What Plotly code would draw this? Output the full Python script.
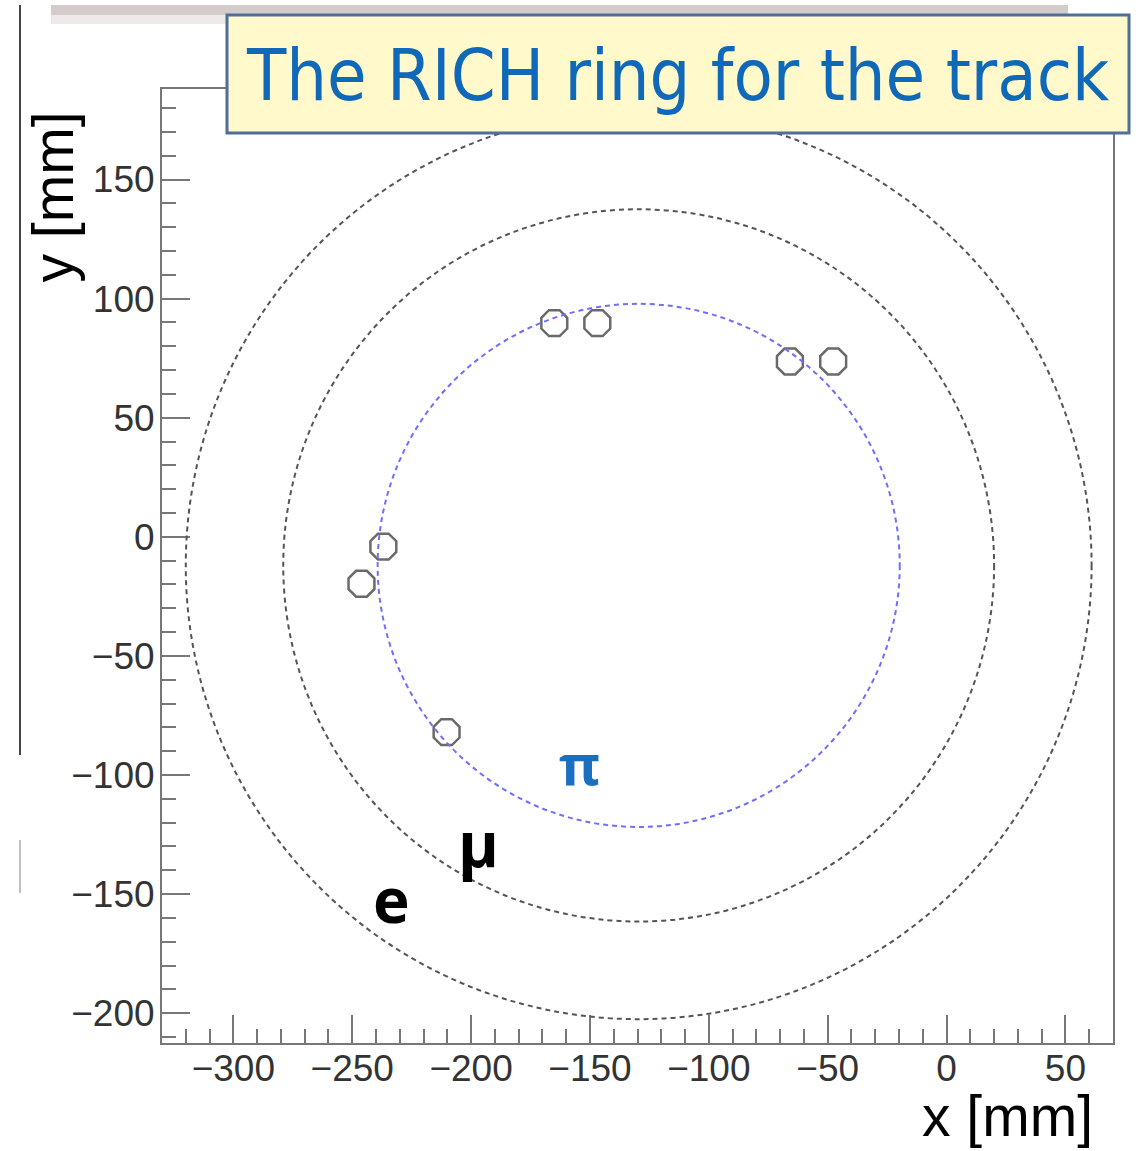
import plotly.graph_objects as go

# ---- data ----
hit_x = [-165.0, -146.9, -65.9, -47.7, -236.9, -246.1, -210.3]
hit_y = [89.7, 89.7, 73.6, 73.6, -4.1, -19.7, -82.0]

ring_names = ["e", "μ", "π"]
ring_cx = [-129.5, -129.5, -129.5]
ring_cy = [-12.0, -12.0, -12.0]
ring_r = [190.5, 149.5, 109.8]
ring_colors = ["#555555", "#555555", "#6f6fff"]

label_x = [-233.4, -197.0, -154.6]
label_y = [-152.0, -128.5, -95.0]
label_sizes = [62, 62, 56]
label_colors = ["#000000", "#000000", "#1a6fc0"]

title_text = "The RICH ring for the track"
x_title = "x [mm]"
y_title = "y [mm]"

x_range = [-330, 70]
y_range = [-212.5, 188]

# ---- layout geometry (pixels) ----
W, H = 1141, 1151
L, R, T, B = 162, 1113, 89, 1043


def px2x(px):
    return (px - L) / (R - L)


def py2y(py):
    return (B - py) / (B - T)


fig = go.Figure()

fig.add_trace(go.Scatter(
    x=hit_x, y=hit_y, mode="markers",
    marker=dict(symbol="octagon-open", size=28, color="#6a6a6a",
                line=dict(width=2.5, color="#6a6a6a")),
    showlegend=False, hoverinfo="x+y",
))

shapes = []
for cx, cy, r, c in zip(ring_cx, ring_cy, ring_r, ring_colors):
    shapes.append(dict(type="circle", xref="x", yref="y",
                       x0=cx - r, x1=cx + r, y0=cy - r, y1=cy + r,
                       line=dict(color=c, width=2, dash="5px,4px"),
                       layer="above"))

# screenshot decorations
shapes.append(dict(type="rect", xref="paper", yref="paper",
                   x0=px2x(51), x1=px2x(1068), y0=py2y(5), y1=py2y(15),
                   fillcolor="#d4cbcb", line=dict(width=0), layer="above"))
shapes.append(dict(type="rect", xref="paper", yref="paper",
                   x0=px2x(51), x1=px2x(1068), y0=py2y(15), y1=py2y(24),
                   fillcolor="#eeeaea", line=dict(width=0), layer="above"))
shapes.append(dict(type="line", xref="paper", yref="paper",
                   x0=px2x(20), x1=px2x(20), y0=py2y(5), y1=py2y(755),
                   line=dict(color="#444444", width=2), layer="above"))
shapes.append(dict(type="line", xref="paper", yref="paper",
                   x0=px2x(20), x1=px2x(20), y0=py2y(840), y1=py2y(893),
                   line=dict(color="#aaaaaa", width=1.5), layer="above"))

# title box
shapes.append(dict(type="rect", xref="paper", yref="paper",
                   x0=px2x(227), x1=px2x(1129), y0=py2y(133), y1=py2y(15),
                   fillcolor="#fff9cc", line=dict(color="#4f6f9a", width=3),
                   layer="above"))
fig.update_layout(shapes=shapes)

annotations = [
    dict(text=title_text, xref="paper", yref="paper",
         x=px2x(678), y=py2y(75), xanchor="center", yanchor="middle",
         showarrow=False,
         font=dict(family="DejaVu Sans Condensed, DejaVu Sans", size=71.5,
                   color="#1069b8")),
    dict(text=x_title, xref="paper", yref="paper",
         x=px2x(1095), y=py2y(1116), xanchor="right", yanchor="middle",
         showarrow=False,
         font=dict(family="Liberation Sans, Arial", size=57, color="#000000")),
    dict(text=y_title, xref="paper", yref="paper", textangle=-90,
         x=px2x(52), y=py2y(110), xanchor="center", yanchor="top",
         showarrow=False,
         font=dict(family="Liberation Sans, Arial", size=57, color="#000000")),
]
for t, x, y, s, c in zip(ring_names, label_x, label_y, label_sizes, label_colors):
    annotations.append(dict(text="<b>" + t + "</b>", x=x, y=y, xref="x", yref="y",
                            showarrow=False, xanchor="center", yanchor="middle",
                            font=dict(family="Open Sans, Noto Sans", size=s,
                                      color=c)))
fig.update_layout(annotations=annotations)

axis_common = dict(
    showgrid=False, zeroline=False,
    showline=True, linecolor="#777777", linewidth=2, mirror=True,
    ticks="inside", ticklen=28, tickwidth=2, tickcolor="#777777",
    tickfont=dict(family="Liberation Sans, Arial", size=37, color="#333333"),
    dtick=50, tick0=0,
    minor=dict(dtick=10, ticks="inside", ticklen=14, tickwidth=2,
               tickcolor="#777777", showgrid=False),
)
fig.update_xaxes(range=x_range, ticklabelstandoff=-8, **axis_common)
fig.update_yaxes(range=y_range, ticklabelstandoff=-2, **axis_common)

fig.update_layout(
    width=W, height=H,
    margin=dict(l=L, r=W - R, t=T, b=H - B, pad=0),
    plot_bgcolor="white", paper_bgcolor="white",
    showlegend=False,
)

fig.write_html("out.html")
